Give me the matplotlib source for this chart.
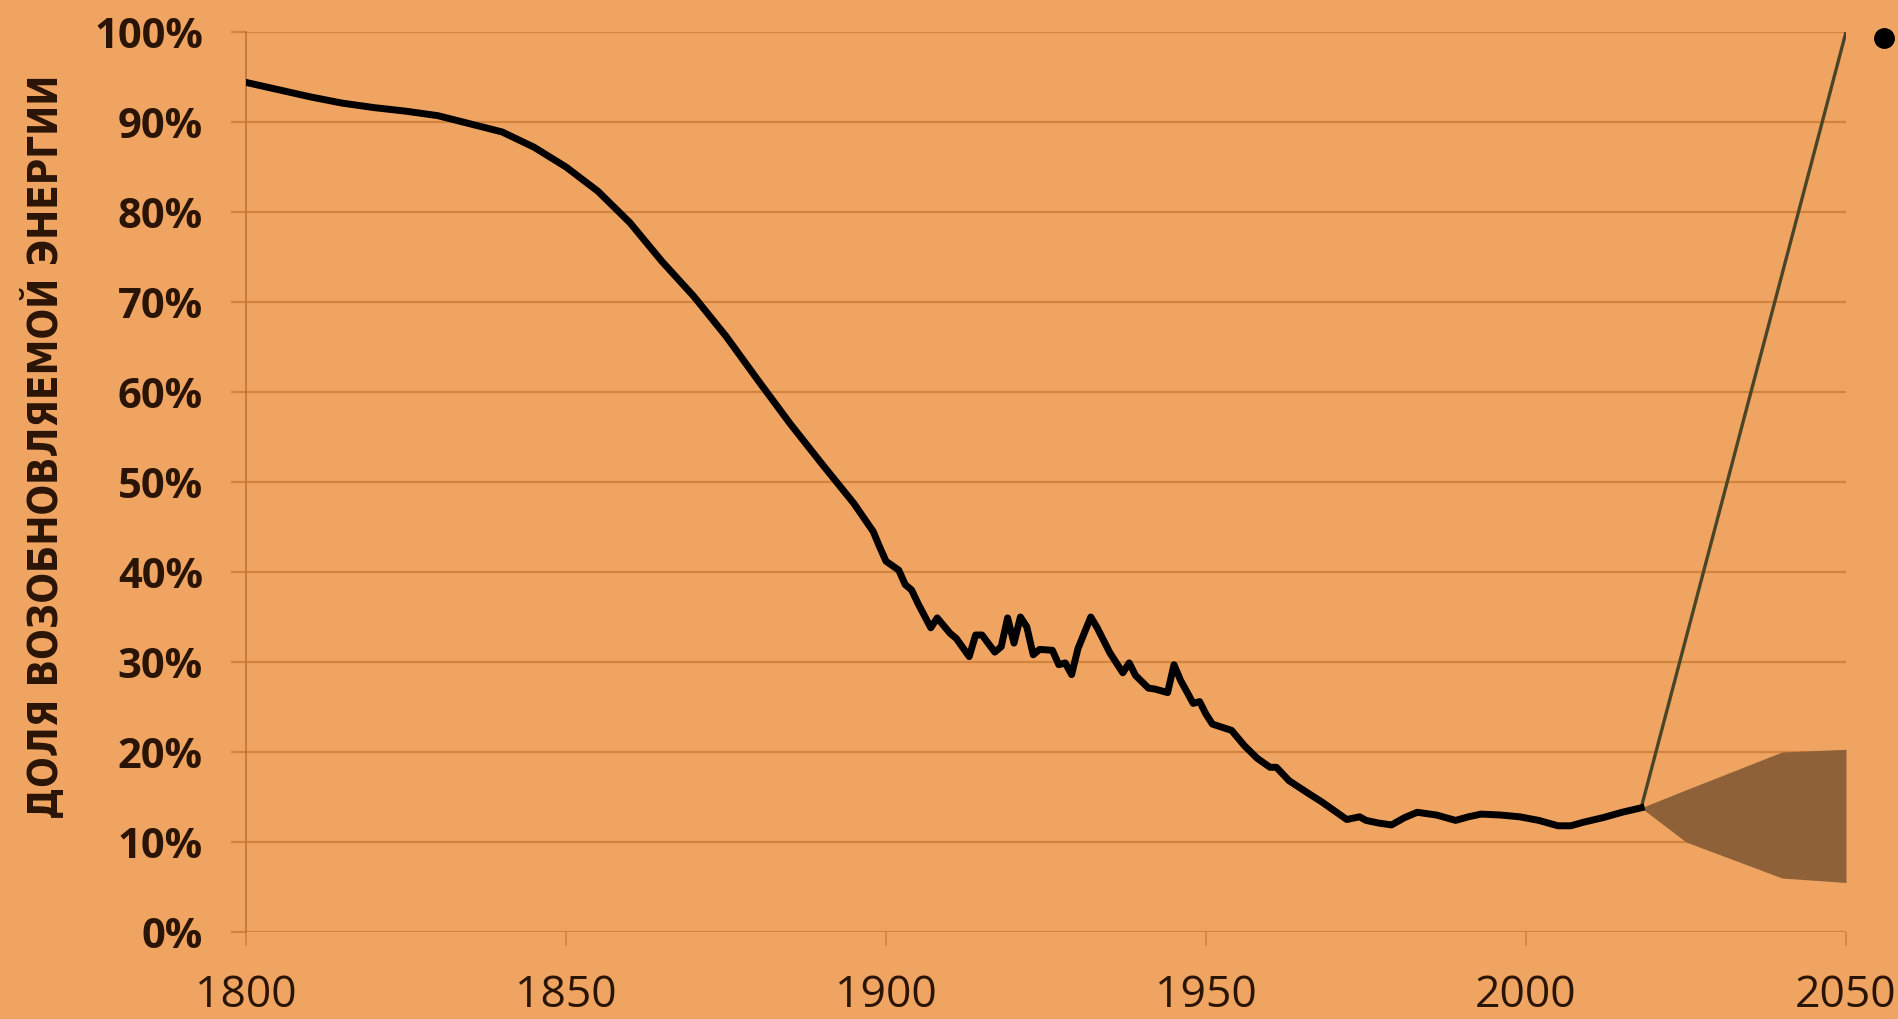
import numpy as np
from matplotlib import pyplot as plt

# historical share of renewable energy, %
years = [1800, 1805, 1810, 1815, 1820, 1825, 1830, 1835, 1840, 1845, 1850, 1855,
         1860, 1865, 1870, 1875, 1880, 1885, 1890, 1895, 1898, 1899, 1900, 1902,
         1903, 1904, 1905, 1907, 1908, 1910, 1911, 1913, 1914, 1915, 1917, 1918,
         1919, 1920, 1921, 1922, 1923, 1924, 1926, 1927, 1928, 1929, 1930, 1932,
         1933, 1934, 1935, 1937, 1938, 1939, 1941, 1942, 1944, 1945, 1946, 1948,
         1949, 1950, 1951, 1954, 1956, 1958, 1960, 1961, 1963, 1966, 1968, 1970,
         1972, 1974, 1975, 1977, 1979, 1981, 1983, 1986, 1989, 1991, 1993, 1996,
         1999, 2002, 2005, 2007, 2009, 2012, 2015, 2018]
share = [94.4, 93.6, 92.8, 92.1, 91.6, 91.2, 90.7, 89.8, 88.9, 87.2, 85.0, 82.3,
         78.8, 74.5, 70.6, 66.2, 61.3, 56.5, 52.0, 47.6, 44.5, 42.8, 41.2, 40.2,
         38.6, 38.0, 36.5, 33.8, 34.9, 33.2, 32.6, 30.6, 33.0, 33.0, 31.1, 31.7,
         34.9, 32.1, 35.0, 33.9, 30.8, 31.4, 31.3, 29.7, 29.9, 28.6, 31.5, 35.0,
         33.8, 32.4, 31.0, 28.8, 29.9, 28.5, 27.1, 27.0, 26.6, 29.7, 28.0, 25.4,
         25.6, 24.2, 23.1, 22.4, 20.7, 19.3, 18.3, 18.3, 16.8, 15.4, 14.5, 13.5,
         12.5, 12.8, 12.4, 12.1, 11.9, 12.7, 13.3, 13.0, 12.4, 12.8, 13.1, 13.0,
         12.8, 12.4, 11.8, 11.8, 12.2, 12.7, 13.3, 13.8]

# target path to 100% and projection range
target_years = [2018, 2050]
target_share = [13.8, 100]
cone_years = [2018, 2025, 2040, 2050]
cone_low = [13.8, 10.0, 6.0, 5.5]
cone_high = [13.8, 15.8, 20.0, 20.3]
dot_year, dot_share = 2056, 99.3

y_ticks = [0, 10, 20, 30, 40, 50, 60, 70, 80, 90, 100]
x_ticks = [1800, 1850, 1900, 1950, 2000, 2050]

bg = '#EFA461'
grid_c = '#D2843F'
text_c = '#2A1406'

fig = plt.figure(figsize=(18.99, 10.19), dpi=100, facecolor=bg)
ax = fig.add_axes([246 / 1899, 1 - 932 / 1019, 1600 / 1899, 900 / 1019])
ax.set_facecolor(bg)

ax.fill_between(cone_years, cone_low, cone_high, color='#8E6139', lw=0, zorder=2)
ax.plot(target_years, target_share, color='#4A4526', lw=2.4, zorder=3)
ax.plot(years, share, color='black', lw=5, solid_joinstyle='round', zorder=4)
ax.plot([dot_year], [dot_share], 'o', color='black', ms=14, clip_on=False, zorder=5)

ax.set_xlim(1800, 2050)
ax.set_ylim(0, 100)
ax.set_yticks(y_ticks)
ax.set_yticklabels([f"{v}%" for v in y_ticks])
ax.set_xticks(x_ticks)
ax.set_xticklabels([str(v) for v in x_ticks])

ax.grid(axis='y', color=grid_c, lw=1.6, zorder=1)
for s in ['top', 'right', 'bottom']:
    ax.spines[s].set_visible(False)
ax.spines['left'].set_color('#B87636')
ax.spines['left'].set_linewidth(1.2)
ax.tick_params(axis='y', length=11, width=1.6, color=grid_c, pad=20,
               labelsize=30, labelcolor=text_c)
ax.tick_params(axis='x', length=10, width=1.2, color=grid_c, pad=20,
               labelsize=32, labelcolor=text_c)
for lab in ax.get_yticklabels():
    lab.set_fontfamily(['Open Sans', 'DejaVu Sans'])
    lab.set_fontweight('bold')
for lab in ax.get_xticklabels():
    lab.set_fontfamily(['Open Sans', 'DejaVu Sans'])

ylab = fig.text(45 / 1899, 1 - 447 / 1019, 'ДОЛЯ ВОЗОБНОВЛЯЕМОЙ ЭНЕРГИИ', rotation=90,
                ha='center', va='center', fontsize=35, fontweight='bold', color=text_c,
                fontstretch='condensed', family='DejaVu Sans')
# fit the label to the length it has in the original
fig.canvas.draw()
h = ylab.get_window_extent().height
ylab.set_fontsize(35 * 748 / h)

fig.savefig('out.png', dpi=100, facecolor=bg)
